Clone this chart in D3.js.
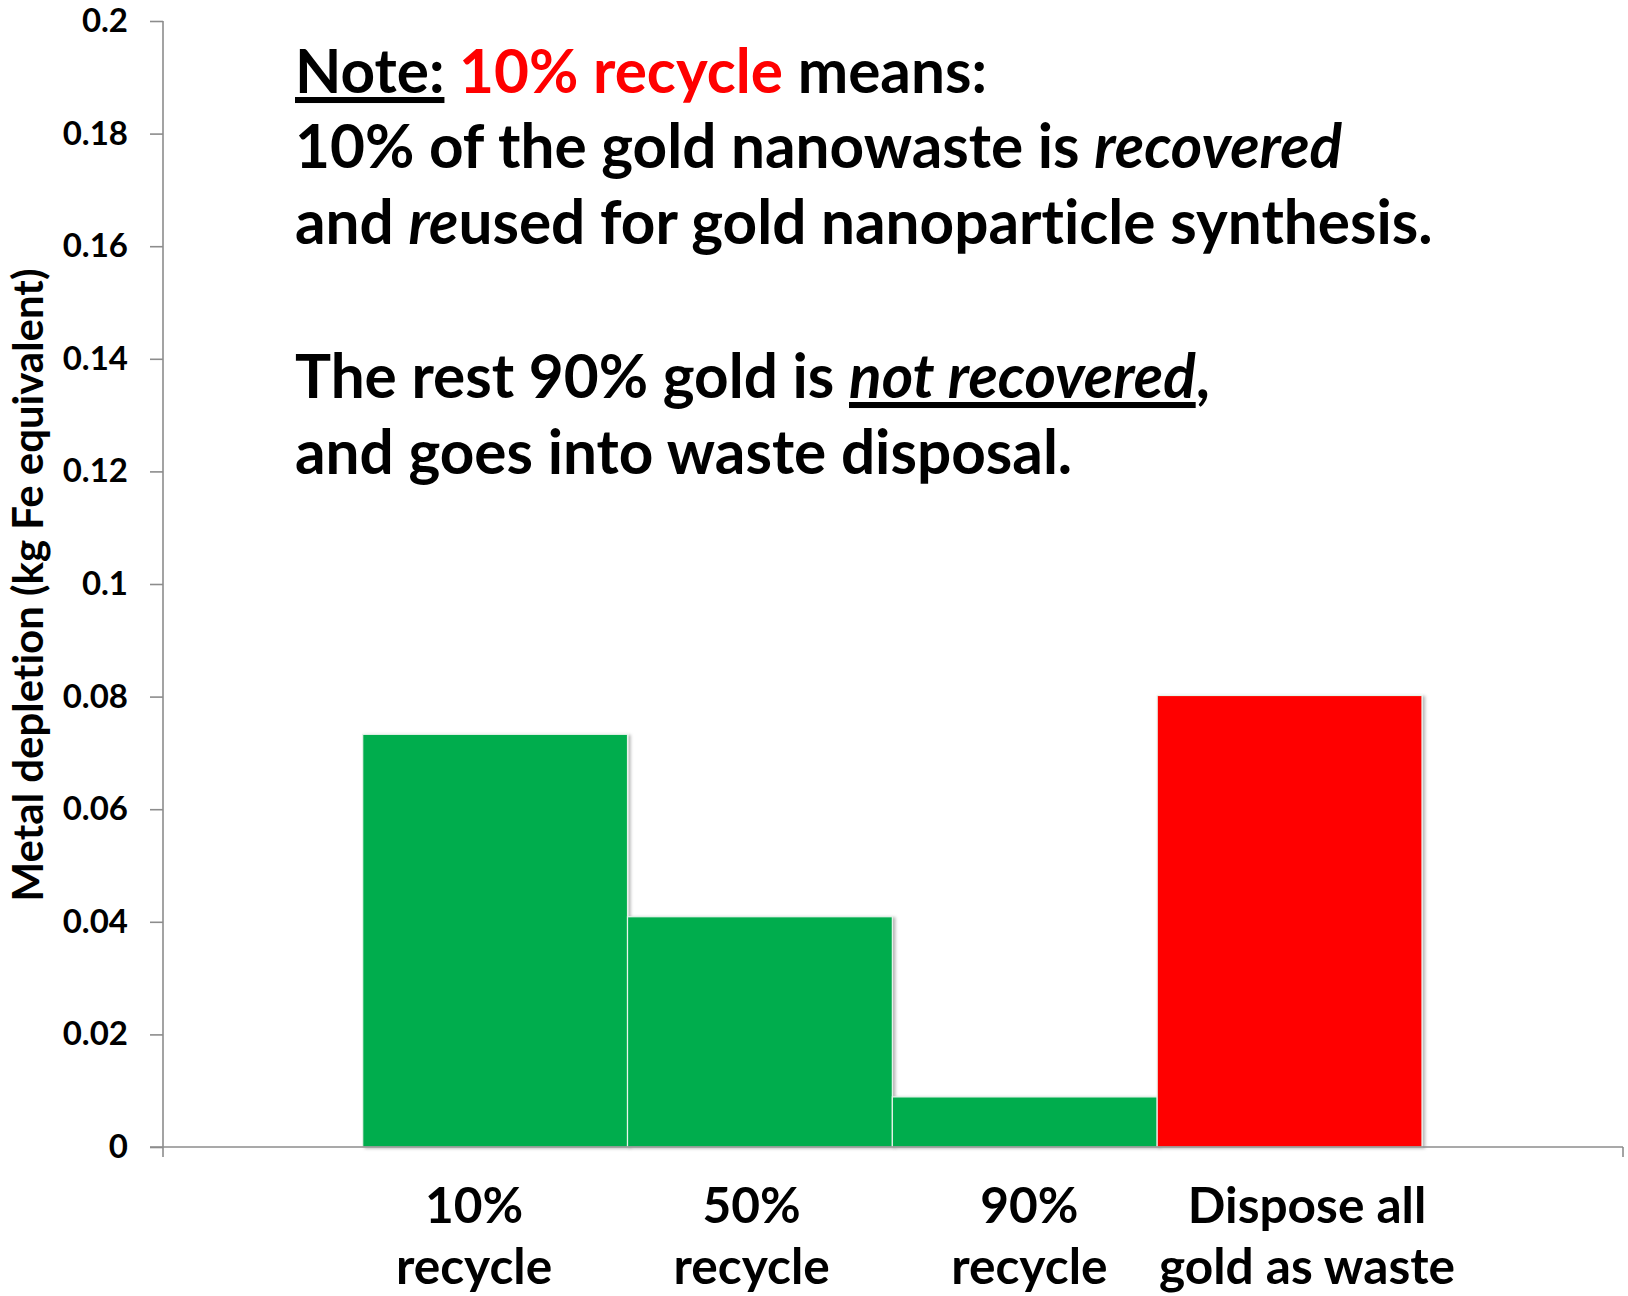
<!DOCTYPE html>
<html>
<head>
<meta charset="utf-8">
<script src="https://cdn.jsdelivr.net/npm/d3@7"></script>
<style>
  html, body { margin: 0; padding: 0; background: #fff; }
  svg { display: block; font-family: Lato, "Open Sans", "DejaVu Sans", sans-serif; font-weight: 700;
        font-variant-ligatures: none; font-feature-settings: "liga" 0, "clig" 0; }
</style>
</head>
<body>
<svg id="chart" width="1628" height="1296"></svg>
<script>
// Metal depletion per gold nanowaste handling scenario
const categories = ["10% recycle", "50% recycle", "90% recycle", "Dispose all gold as waste"];
const labelLines = [["10%", "recycle"], ["50%", "recycle"], ["90%", "recycle"], ["Dispose all", "gold as waste"]];
const values = [0.0733, 0.0409, 0.0089, 0.0802];
const barColors = ["#00AD4E", "#00AD4E", "#00AD4E", "#FF0000"];
const yTicks = [0, 0.02, 0.04, 0.06, 0.08, 0.1, 0.12, 0.14, 0.16, 0.18, 0.2];
const yTickLabels = ["0", "0.02", "0.04", "0.06", "0.08", "0.1", "0.12", "0.14", "0.16", "0.18", "0.2"];
const yTitle = "Metal depletion (kg Fe equivalent)";

const svg = d3.select("#chart");

// Plot frame
const axisX = 163, axisRight = 1623, yTop = 21, yBottom = 1147;
const y = d3.scaleLinear().domain([0, 0.2]).range([yBottom, yTop]);
const x = d3.scaleBand().domain(categories).range([362.7, 1422]).paddingInner(0).paddingOuter(0);
const xLabel = d3.scalePoint().domain(categories).range([474, 1307]);

const defs = svg.append("defs");
const shadow = defs.append("filter").attr("id", "barShadow")
  .attr("x", "-5%").attr("y", "-5%").attr("width", "115%").attr("height", "115%");
shadow.append("feDropShadow").attr("dx", 2.5).attr("dy", 1).attr("stdDeviation", 1.6)
  .attr("flood-color", "#000").attr("flood-opacity", 0.28);

// Bars
svg.append("g").selectAll("rect").data(categories).join("rect")
  .attr("x", d => x(d))
  .attr("y", (d, i) => y(values[i]))
  .attr("width", x.bandwidth())
  .attr("height", (d, i) => y(0) - y(values[i]))
  .attr("fill", (d, i) => barColors[i])
  .attr("stroke", "#e9f4ec")
  .attr("stroke-width", 1.2)
  .attr("filter", "url(#barShadow)");

// Y axis
const yAxis = d3.axisLeft(y)
  .tickValues(yTicks)
  .tickFormat((d, i) => yTickLabels[i])
  .tickSize(13)
  .tickPadding(22)
  .tickSizeOuter(0);
const gy = svg.append("g").attr("transform", `translate(${axisX},0)`).call(yAxis);
gy.select(".domain").attr("stroke", "#8c8c8c").attr("stroke-width", 1.6)
  .attr("d", `M0,${yTop}V${yBottom + 10}`);
gy.selectAll(".tick line").attr("stroke", "#8c8c8c").attr("stroke-width", 1.6);
gy.selectAll(".tick text")
  .attr("fill", "#000")
  .style("font-family", "Lato, sans-serif")
  .style("font-weight", 700)
  .style("font-size", "33px");

// X axis line with end ticks
const gx = svg.append("g");
gx.append("line").attr("x1", axisX - 13).attr("x2", axisRight).attr("y1", yBottom).attr("y2", yBottom)
  .attr("stroke", "#8c8c8c").attr("stroke-width", 1.6);
gx.append("line").attr("x1", axisRight).attr("x2", axisRight).attr("y1", yBottom).attr("y2", yBottom + 10)
  .attr("stroke", "#8c8c8c").attr("stroke-width", 1.6);

// Category labels (two lines each), sized so the widest line spans ~296px
const catG = svg.append("g").attr("text-anchor", "middle").attr("fill", "#000");
const probe = svg.append("text").style("font-size", "50px").text("gold as waste");
const catSize = 50 * 296 / probe.node().getComputedTextLength();
probe.remove();
const cat = catG.selectAll("text").data(categories).join("text")
  .attr("x", d => xLabel(d))
  .attr("y", 1223)
  .style("font-size", catSize + "px");
cat.selectAll("tspan").data((d, i) => labelLines[i]).join("tspan")
  .attr("x", function () { return d3.select(this.parentNode).attr("x"); })
  .attr("dy", (d, i) => i === 0 ? 0 : 61)
  .text(d => d);

// Y axis title
const titleProbe = svg.append("text").style("font-size", "33px").text(yTitle);
const titleSize = 33 * 633 / titleProbe.node().getComputedTextLength();
titleProbe.remove();
svg.append("text")
  .attr("transform", "translate(43,585) rotate(-90)")
  .attr("text-anchor", "middle")
  .style("font-size", titleSize + "px")
  .attr("fill", "#000")
  .text(yTitle);

// Explanatory note
const noteLines = [
  [{t: "Note:", u: true}, {t: " "}, {t: "10% recycle", c: "#FF0000"}, {t: " means:"}],
  [{t: "10% of the gold nanowaste is "}, {t: "recovered", i: true}],
  [{t: "and "}, {t: "re", i: true}, {t: "used for gold nanoparticle synthesis."}],
  [{t: "The rest 90% gold is "}, {t: "not recovered", i: true, u: true}, {t: ","}],
  [{t: "and goes into waste disposal."}]
];
const noteBaselines = [93, 168, 244, 398, 474];
const noteProbe = svg.append("text").style("font-size", "60px");
noteProbe.selectAll("tspan").data(noteLines[2]).join("tspan")
  .style("font-style", d => d.i ? "italic" : "normal").text(d => d.t);
const noteSize = 60 * 1138 / noteProbe.node().getComputedTextLength();
noteProbe.remove();

const noteG = svg.append("g");
noteLines.forEach((line, li) => {
  const t = noteG.append("text")
    .attr("x", 295).attr("y", noteBaselines[li])
    .style("font-size", noteSize + "px")
    .attr("fill", "#000");
  t.selectAll("tspan").data(line).join("tspan")
    .attr("fill", d => d.c || "#000")
    .style("font-style", d => d.i ? "italic" : "normal")
    .style("text-decoration", d => d.u ? "underline" : "none")
    .style("text-decoration-thickness", d => d.u ? "3px" : null)
    .text(d => d.t);
});
</script>
</body>
</html>
